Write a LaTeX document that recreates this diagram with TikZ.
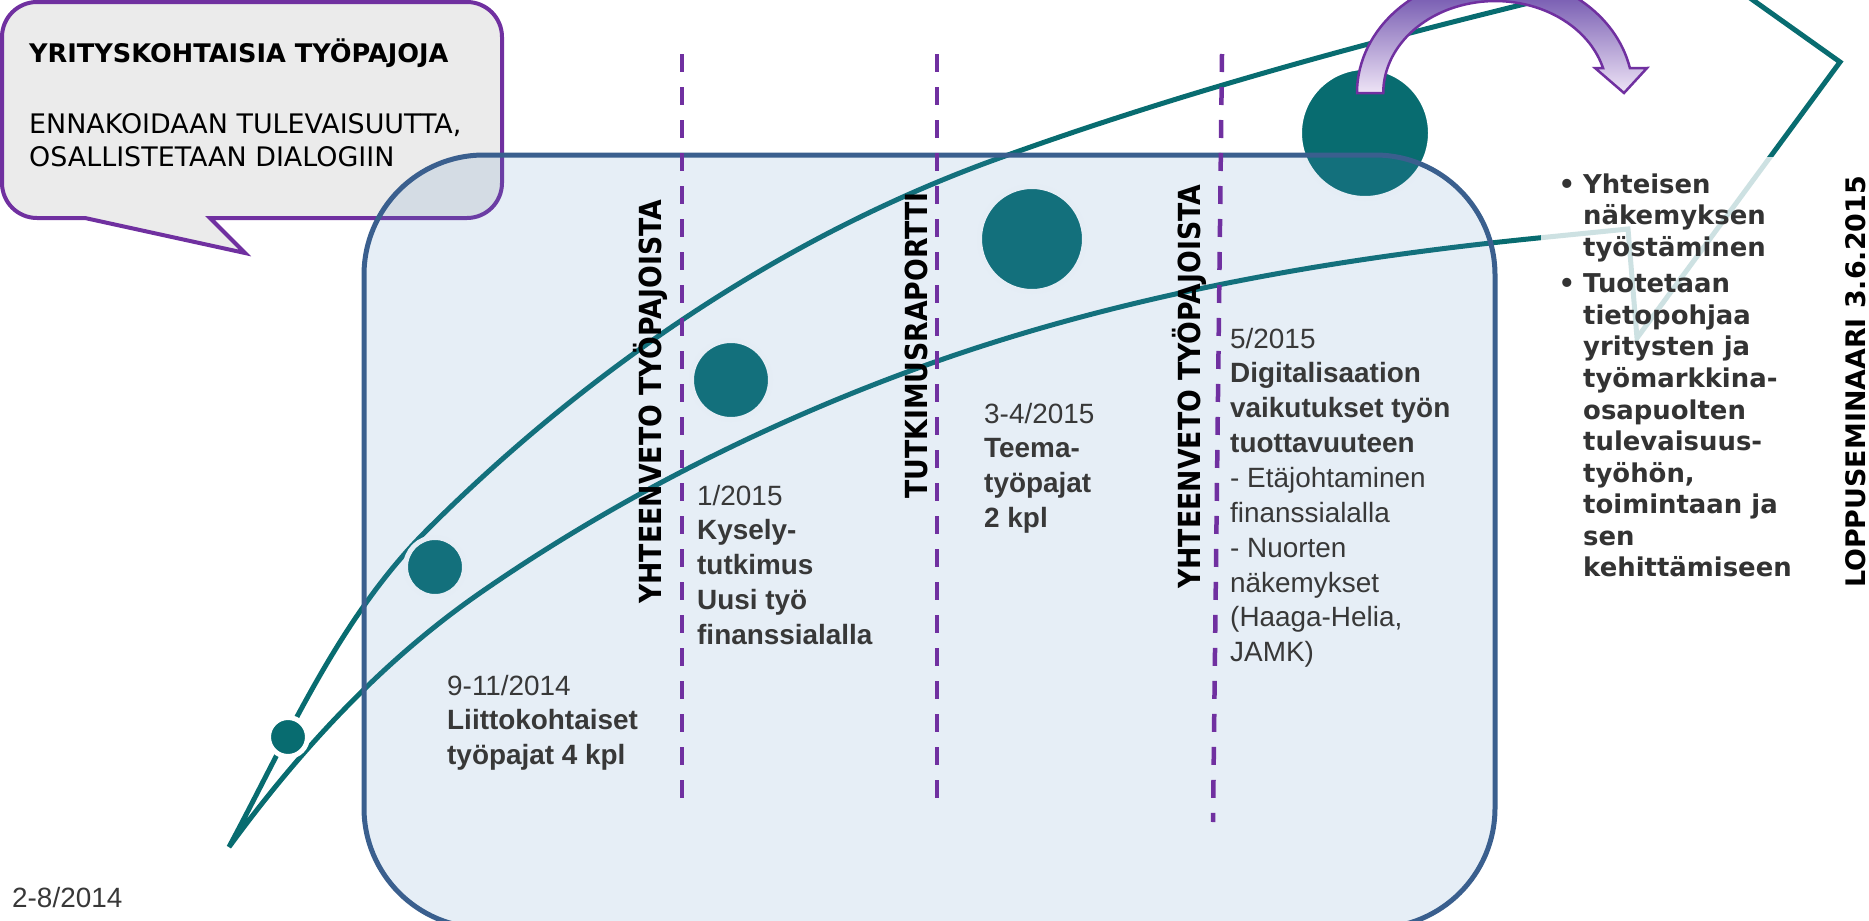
\documentclass[tikz,border=0pt]{standalone}
\usepackage{fontspec}
\setmainfont{Liberation Sans}
\newfontfamily\dvs{DejaVu Sans}
\newfontfamily\dvsc[FakeStretch=0.88]{DejaVu Sans}
\definecolor{teal1}{HTML}{086C70}
\definecolor{purp}{HTML}{7030A0}
\definecolor{boxline}{HTML}{3A5F8E}
\definecolor{boxfill}{HTML}{548AC1}
\definecolor{callfill}{HTML}{EBEBEB}
\definecolor{txt}{HTML}{383838}
\definecolor{txtdark}{HTML}{333333}
\definecolor{arrtop}{HTML}{5E3FA3}
\definecolor{arrmid}{HTML}{82BDF7}
\definecolor{arrbot}{HTML}{EEE4F6}
\tikzset{
  dot/.style={circle, fill=teal1, draw=white, line width=5bp, inner sep=0pt, minimum size=#1},
  curve/.style={draw=teal1, line width=5bp},
  vline/.style={draw=purp, line width=4.5bp, dash pattern=on 18bp off 15bp},
  vlabel/.style={rotate=90, anchor=base west, inner sep=0pt, text=black, font=\dvsc\bfseries\fontsize{30.5}{32}\selectfont},
  body/.style={anchor=base west, inner sep=0pt, text=txt, font=\fontsize{28}{35}\selectfont},
}
\begin{document}
\begin{tikzpicture}[x=1bp,y=-1bp]
\useasboundingbox (0,0) rectangle (1869,921);
\clip (0,0) rectangle (1869,921);

% teal star-like track
\draw[curve] (427,530) .. controls (586,371) and (782,237) .. (994,160)
  .. controls (1173,95) and (1357,45) .. (1541,0)
  -- (1590,-12) -- (1736,-12) -- (1840,62) -- (1637,338) -- (1628,229) -- (1538,238)
  .. controls (1328,259) and (1116,296) .. (918,368)
  .. controls (764,424) and (614,500) .. (480,593)
  .. controls (382,661) and (299,751) .. (229,847)
  .. controls (288,737) and (339,618) .. (427,530) -- cycle;

% milestone dots
\node[dot=39bp]  (c1) at (288,737) {};
\node[dot=59bp]  (c2) at (435,567) {};
\node[dot=79bp]  (c3) at (731,380) {};
\node[dot=105bp] (c4) at (1032,239) {};
\node[dot=131bp] (c5) at (1365,133) {};

% speech bubble
\draw[draw=purp, fill=callfill, line width=4bp]
  (37,2) -- (467,2) arc[start angle=270, end angle=360, radius=35]
  -- (502,183) arc[start angle=0, end angle=90, radius=35]
  -- (210,218) -- (245,253) -- (85,218) -- (37,218)
  arc[start angle=90, end angle=180, radius=35]
  -- (2,37) arc[start angle=180, end angle=270, radius=35] -- cycle;

% main rounded box
\path[fill=boxfill, fill opacity=0.15, rounded corners=120bp] (364,155) rectangle (1495,928);
\draw[draw=boxline, line width=5bp, rounded corners=120bp] (364,155) rectangle (1495,928);

% translucent white text panel on the right
\fill[white, fill opacity=0.8] (1541,157) rectangle (1800,930);

% curved arrow
\draw[draw=purp, line width=2.5bp, top color=arrtop, middle color=arrmid, bottom color=arrbot]
  (1357,93) arc[start angle=180, end angle=347.8, x radius=138, y radius=118]
  -- (1647,68) -- (1624,93) -- (1595,68) -- (1603,68)
  arc[start angle=344.2, end angle=180, x radius=112, y radius=92] -- cycle;

% dashed separators
\coordinate (d1t) at (682,54);  \coordinate (d1b) at (682,810);
\coordinate (d2t) at (937,54);  \coordinate (d2b) at (937,810);
\coordinate (d3t) at (1222,54); \coordinate (d3b) at (1213,822);
\draw[vline] (d1t) -- (d1b);
\draw[vline] (d2t) -- (d2b);
\draw[vline] (d3t) -- (d3b);

% vertical labels
\node[vlabel] (v1) at (661,604) {YHTEENVETO TYÖPAJOISTA};
\node[vlabel] (v2) at (927,499) {TUTKIMUSRAPORTTI};
\node[vlabel] (v3) at (1200,589) {YHTEENVETO TYÖPAJOISTA};
\node[rotate=90, anchor=base west, inner sep=0pt, text=black, font=\dvs\bfseries\fontsize{27}{30}\selectfont] (lop) at (1865,588) {LOPPUSEMINAARI 3.6.2015};

% callout text
\node[anchor=base west, inner sep=0pt, text=black, font=\dvs\bfseries\fontsize{25.7}{30}\selectfont] (ct) at (29,62) {YRITYSKOHTAISIA TYÖPAJOJA};
\node[anchor=base west, inner sep=0pt, text=black, font=\dvs\fontsize{27}{34}\selectfont] (cb) at (29,133)
  {\vtop{\hbox{ENNAKOIDAAN TULEVAISUUTTA,}\hbox{OSALLISTETAAN DIALOGIIN}}};

% timeline texts
\node[body] (t0) at (12,907) {2-8/2014};
\node[body] (t1) at (447,695) {\vtop{\hbox{9-11/2014}\hbox{\bfseries Liittokohtaiset}\hbox{\bfseries työpajat 4 kpl}}};
\node[body] (t2) at (697,505) {\vtop{\hbox{1/2015}\hbox{\bfseries Kysely-}\hbox{\bfseries tutkimus}\hbox{\bfseries Uusi työ}\hbox{\bfseries finanssialalla}}};
\node[body] (t3) at (984,423) {\vtop{\hbox{3-4/2015}\hbox{\bfseries Teema-}\hbox{\bfseries työpajat}\hbox{\bfseries 2 kpl}}};
\node[body] (t4) at (1230,348) {\vtop{\hbox{5/2015}\hbox{\bfseries Digitalisaation}\hbox{\bfseries vaikutukset työn}\hbox{\bfseries tuottavuuteen}\hbox{- Etäjohtaminen}\hbox{finanssialalla}\hbox{- Nuorten}\hbox{näkemykset}\hbox{(Haaga-Helia,}\hbox{JAMK)}}};

% bullet list
\node[anchor=base west, inner sep=0pt, text=txtdark, font=\dvs\bfseries\fontsize{26}{31.7}\selectfont] (bl) at (1583,193)
  {\vtop{\hbox{\llap{•\hspace{8bp}}Yhteisen}\hbox{näkemyksen}\hbox{työstäminen}\vskip5bp
   \hbox{\llap{•\hspace{8bp}}Tuotetaan}\hbox{tietopohjaa}\hbox{yritysten ja}\hbox{työmarkkina-}\hbox{osapuolten}\hbox{tulevaisuus-}\hbox{työhön,}\hbox{toimintaan ja}\hbox{sen}\hbox{kehittämiseen}}};
\end{tikzpicture}
\end{document}
